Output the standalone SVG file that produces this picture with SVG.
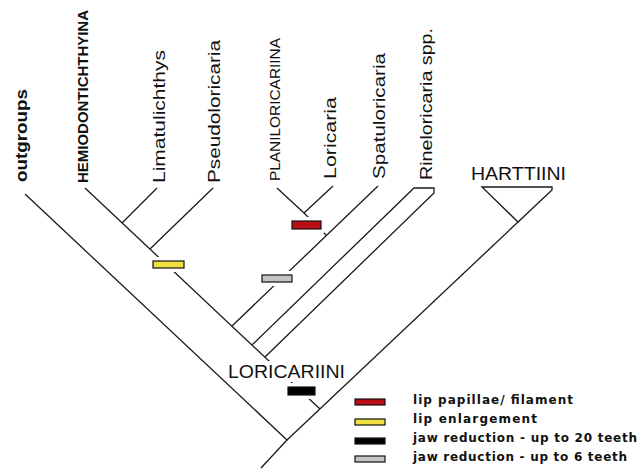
<svg xmlns="http://www.w3.org/2000/svg" width="642" height="472" viewBox="0 0 642 472">
<style>
.ln{fill:none;stroke:#1a1a1a;stroke-width:1.3;stroke-linejoin:miter}
.tip{font-family:"Liberation Sans",Arial,sans-serif;font-size:17px;fill:#111}
.cap{font-family:"Liberation Sans",Arial,sans-serif;font-size:14.5px;fill:#111}
.grp{font-family:"Liberation Sans",Arial,sans-serif;font-size:18px;fill:#111}
.leg{font-family:"DejaVu Sans",Verdana,sans-serif;font-size:12px;font-weight:bold;fill:#111}
.box{stroke:#111;stroke-width:1.2}
.mask{fill:#fff;stroke:none}
</style>
<rect width="642" height="472" fill="#fff"/>
<g id="connectors">
<path class="ln" d="M25,194 L287,440 L261,468"/>
<path class="ln" d="M287,440 L518,222"/>
<path class="ln" d="M85,188 L320,409"/>
<path class="ln" d="M122,223 L157,188"/>
<path class="ln" d="M150,249 L213,188"/>
<path class="ln" d="M232,326 L378,186"/>
<path class="ln" d="M326,235 L304,213 L277,188 M304,213 L333,186"/>
<path class="ln" d="M252,345 L414,188 L434,188 L434,193 L265,357"/>
<path class="ln" d="M518,222 L482,187 L552,187 L552,190 Z"/>
</g>
<g id="synapomorphies">
<rect class="mask" x="150" y="257" width="37" height="15"/>
<rect class="box" x="153" y="261" width="31" height="7" fill="#f0e040"/>
<rect class="mask" x="259" y="271" width="36" height="15"/>
<rect class="box" x="262" y="275" width="30" height="7" fill="#c4c4c4"/>
<rect class="mask" x="289" y="217" width="35" height="16"/>
<rect class="box" x="292" y="221" width="29" height="8" fill="#b80f14"/>
<rect class="mask" x="285" y="383" width="33" height="16"/>
<rect class="box" x="288" y="387" width="27" height="8" fill="#000"/>
</g>
<g id="tips">
<text class="tip" font-weight="bold" font-size="15" transform="translate(27,182) rotate(-90)" textLength="93" lengthAdjust="spacingAndGlyphs">outgroups</text>
<text class="cap" font-weight="bold" transform="translate(88,183) rotate(-90)" textLength="173" lengthAdjust="spacingAndGlyphs">HEMIODONTICHTHYINA</text>
<text class="tip" transform="translate(165,183) rotate(-90)" textLength="133" lengthAdjust="spacingAndGlyphs">Limatulichthys</text>
<text class="tip" transform="translate(220,183) rotate(-90)" textLength="143" lengthAdjust="spacingAndGlyphs">Pseudoloricaria</text>
<text class="cap" transform="translate(280,181) rotate(-90)" textLength="143" lengthAdjust="spacingAndGlyphs">PLANILORICARIINA</text>
<text class="tip" transform="translate(336,179) rotate(-90)" textLength="82" lengthAdjust="spacingAndGlyphs">Loricaria</text>
<text class="tip" transform="translate(385,179) rotate(-90)" textLength="126" lengthAdjust="spacingAndGlyphs">Spatuloricaria</text>
<text class="tip" transform="translate(432,180) rotate(-90)" textLength="152" lengthAdjust="spacingAndGlyphs">Rineloricaria spp.</text>
</g>
<g id="harttiini">
<text class="grp" x="471" y="180" textLength="95" lengthAdjust="spacingAndGlyphs">HARTTIINI</text>
</g>
<g id="loricariini">
<rect class="mask" x="226" y="361" width="121" height="21"/>
<text class="grp" x="228" y="378" textLength="117" lengthAdjust="spacingAndGlyphs">LORICARIINI</text>
</g>
<g id="legend">
<rect class="box" x="355" y="399" width="30" height="6" fill="#b80f14"/>
<rect class="box" x="355" y="419" width="30" height="6" fill="#f0e040"/>
<rect class="box" x="355" y="438" width="30" height="6" fill="#000"/>
<rect class="box" x="355" y="456" width="30" height="6" fill="#c4c4c4"/>
<text class="leg" x="413" y="404" textLength="160">lip papillae/ filament</text>
<text class="leg" x="413" y="423" textLength="124">lip enlargement</text>
<text class="leg" x="413" y="442" textLength="224">jaw reduction - up to 20 teeth</text>
<text class="leg" x="413" y="461" textLength="214">jaw reduction - up to 6 teeth</text>
</g>
</svg>
